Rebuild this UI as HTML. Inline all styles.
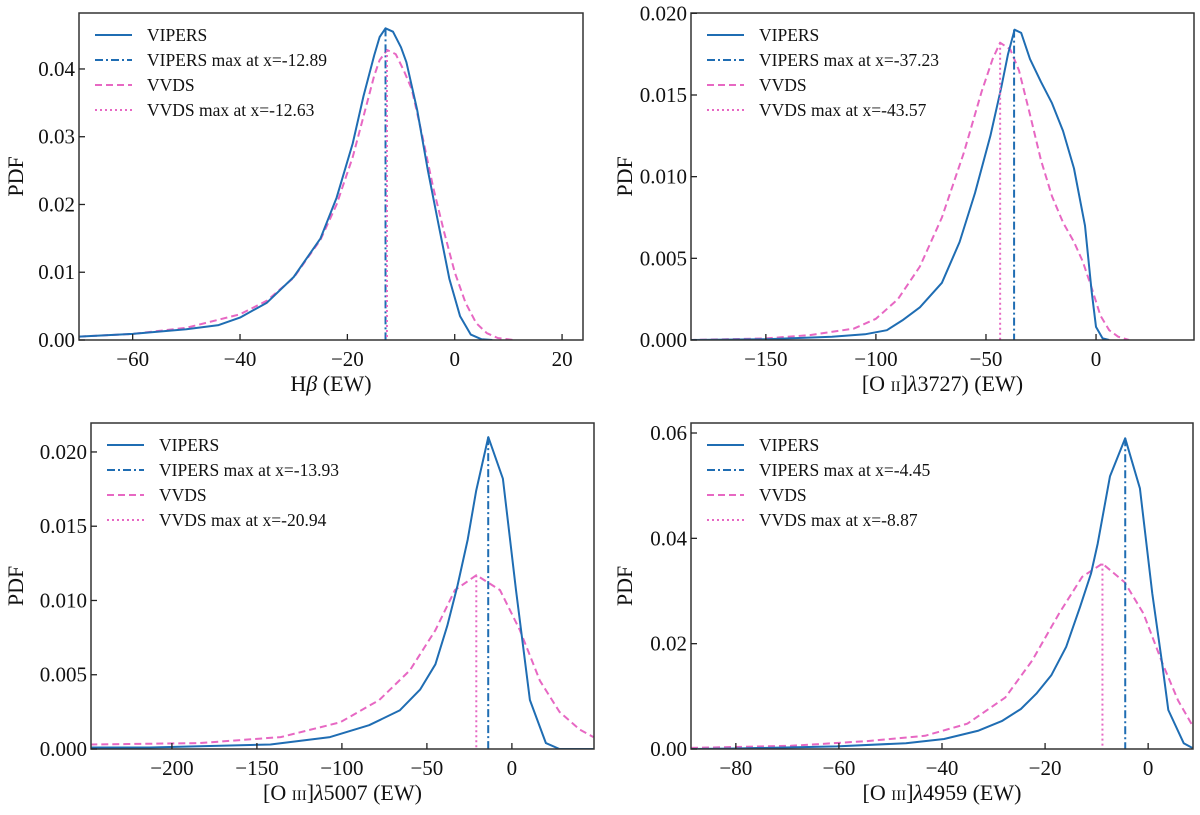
<!DOCTYPE html>
<html><head><meta charset="utf-8"><style>
html,body{margin:0;padding:0;background:#fff;}
svg text{font-family:"Liberation Serif","DejaVu Serif",serif;fill:#111;}
</style></head><body>
<svg id="fig" xmlns="http://www.w3.org/2000/svg" width="1200" height="810" viewBox="0 0 1200 810"></svg>
<script>
// ---- Data ----
const hbVipersX=[-70,-60,-50,-44,-40,-35,-30,-25,-22,-19,-17,-15,-14,-12.9,-11.5,-10,-9,-7,-5,-3,-1,1,3,5,7];
const hbVipersY=[0.0005,0.0009,0.0016,0.0022,0.0033,0.0055,0.0093,0.015,0.021,0.029,0.036,0.042,0.0447,0.046,0.0455,0.0432,0.041,0.034,0.025,0.017,0.009,0.0035,0.0008,0.0001,0];
const hbVvdsX=[-70,-60,-50,-40,-35,-30,-25,-22,-19,-17,-15,-14,-12.6,-11,-9.5,-8,-6,-4,-2,0,2,4,6,8,11];
const hbVvdsY=[0.0005,0.0009,0.0018,0.0038,0.0058,0.0092,0.0148,0.02,0.027,0.033,0.039,0.0413,0.0428,0.0422,0.0398,0.037,0.03,0.0225,0.016,0.01,0.0055,0.0025,0.001,0.0003,0];
const oiiVipersX=[-185,-150,-120,-105,-95,-88,-80,-70,-62,-55,-48,-43,-40,-37,-34,-30,-25,-20,-15,-10,-5,-2,0,3,6];
const oiiVipersY=[0,0.00005,0.0002,0.00035,0.0006,0.0012,0.002,0.0035,0.006,0.009,0.0125,0.0155,0.0175,0.019,0.0188,0.0172,0.0158,0.0145,0.0128,0.0105,0.007,0.003,0.0008,0.0001,0];
const oiiVvdsX=[-185,-150,-130,-110,-100,-90,-80,-70,-60,-52,-47,-43.6,-39,-35,-30,-25,-20,-15,-10,-6,-2,2,6,10,15];
const oiiVvdsY=[0,0.0001,0.0003,0.0007,0.0013,0.0025,0.0045,0.0075,0.0115,0.0152,0.0172,0.0182,0.0178,0.0165,0.0138,0.011,0.0088,0.0072,0.006,0.0048,0.0032,0.0015,0.0006,0.0002,0];
const o5007VipersX=[-248,-213,-142,-107,-84,-66,-54,-45,-38,-32,-26,-21,-13.9,-5.3,2.4,10.6,20,28,48];
const o5007VipersY=[0.0001,0.0001,0.0003,0.0008,0.0016,0.0026,0.004,0.0057,0.0083,0.011,0.0141,0.0174,0.021,0.0182,0.0107,0.0033,0.0004,0,0];
const o5007VvdsX=[-248,-184,-136,-101,-78,-60,-45,-33.5,-20.9,-7,4.7,16.5,28,40,48];
const o5007VvdsY=[0.0003,0.0004,0.0008,0.0018,0.0033,0.0053,0.008,0.0107,0.0117,0.0107,0.008,0.0046,0.0025,0.0013,0.0008];
const o4959VipersX=[-88.7,-80,-60.4,-47,-39.6,-32.9,-28.4,-24.7,-21.7,-18.8,-15.9,-13.2,-11.1,-9.8,-7.4,-4.45,-1.6,0.8,2.8,3.9,6.9,8.8];
const o4959VipersY=[0,0.0001,0.0005,0.0011,0.0019,0.0035,0.0053,0.0076,0.0105,0.014,0.0194,0.027,0.0333,0.039,0.0518,0.059,0.0495,0.0295,0.0156,0.0074,0.0011,0.0001];
const o4959VvdsX=[-88.7,-69.3,-54.5,-43.3,-35.1,-27.7,-22.5,-17.3,-12.8,-8.87,-4.6,-0.9,2.8,5.8,8.8];
const o4959VvdsY=[0.0002,0.0006,0.0015,0.0025,0.0048,0.0098,0.0168,0.0257,0.0327,0.0352,0.0317,0.0257,0.0162,0.0092,0.0041];
const maxVipers=[-12.89,-37.23,-13.93,-4.45];
const maxVipersY=[0.046,0.019,0.021,0.059];
const maxVvds=[-12.63,-43.57,-20.94,-8.87];
const maxVvdsY=[0.0428,0.0182,0.0117,0.0352];
const xTicks=[[-60,-40,-20,0,20],[-150,-100,-50,0],[-200,-150,-100,-50,0],[-80,-60,-40,-20,0]];
const yTicks=[[0,0.01,0.02,0.03,0.04],[0,0.005,0.010,0.015,0.020],[0,0.005,0.010,0.015,0.020],[0,0.02,0.04,0.06]];
const yTickLabels=[["0.00","0.01","0.02","0.03","0.04"],["0.000","0.005","0.010","0.015","0.020"],["0.000","0.005","0.010","0.015","0.020"],["0.00","0.02","0.04","0.06"]];

const BLUE="#1f6db3", PINK="#e768c3";
const NS="http://www.w3.org/2000/svg";
const svg=document.getElementById('fig');
function mk(tag,attrs,parent){const e=document.createElementNS(NS,tag);for(const k in attrs)e.setAttribute(k,attrs[k]);(parent||svg).appendChild(e);return e;}

const panels=[
 {name:'hbeta',box:[79,13,583,340],xd:[-70,23.9],yd:[0,0.04826],vx:hbVipersX,vy:hbVipersY,wx:hbVvdsX,wy:hbVvdsY,xlab:'hb'},
 {name:'oii-3727',box:[691,13,1194,340],xd:[-184,44.5],yd:[0,0.02002],vx:oiiVipersX,vy:oiiVipersY,wx:oiiVvdsX,wy:oiiVvdsY,xlab:'oii'},
 {name:'oiii-5007',box:[91,423,594,749],xd:[-247.6,48.3],yd:[0,0.02195],vx:o5007VipersX,vy:o5007VipersY,wx:o5007VvdsX,wy:o5007VvdsY,xlab:'o5007'},
 {name:'oiii-4959',box:[691,423,1193,749],xd:[-88.7,8.7],yd:[0,0.0619],vx:o4959VipersX,vy:o4959VipersY,wx:o4959VvdsX,wy:o4959VvdsY,xlab:'o4959'}
];

panels.forEach((p,i)=>{
 const [L,T,R,B]=p.box;
 const g=mk('g',{});
 
 
 const sx=v=>L+(v-p.xd[0])/(p.xd[1]-p.xd[0])*(R-L);
 const sy=v=>B-(v-p.yd[0])/(p.yd[1]-p.yd[0])*(B-T);
 const clipId='clip'+i;
 const cp=mk('clipPath',{id:clipId},g); mk('rect',{x:L,y:T,width:R-L,height:B-T},cp);
 const pts=(xs,ys)=>xs.map((x,k)=>sx(x).toFixed(1)+','+sy(ys[k]).toFixed(1)).join(' ');
 const w=mk('polyline',{points:pts(p.wx,p.wy),fill:'none',stroke:PINK,'stroke-width':2,'stroke-dasharray':'7,4','stroke-linejoin':'round','clip-path':`url(#${clipId})`},g);
 
 
 const v=mk('polyline',{points:pts(p.vx,p.vy),fill:'none',stroke:BLUE,'stroke-width':2,'stroke-linejoin':'round','clip-path':`url(#${clipId})`},g);
 
 
 const vl=mk('line',{x1:sx(maxVipers[i]),x2:sx(maxVipers[i]),y1:sy(maxVipersY[i]),y2:B,stroke:BLUE,'stroke-width':2,'stroke-dasharray':'8,3,2,3'},g);
 
 
 const wl=mk('line',{x1:sx(maxVvds[i]),x2:sx(maxVvds[i]),y1:sy(maxVvdsY[i]),y2:B,stroke:PINK,'stroke-width':2,'stroke-dasharray':'2,3'},g);
 
 
 const fr=mk('rect',{x:L,y:T,width:R-L,height:B-T,fill:'none',stroke:'#333','stroke-width':1.5},g);
 
 
 xTicks[i].forEach(t=>{
  const x=sx(t);
  mk('line',{x1:x,x2:x,y1:B,y2:B-6,stroke:'#222','stroke-width':1.3},g);
  const tx=mk('text',{x:x,y:B+26,'font-size':21,'text-anchor':'middle'},g);
  tx.textContent=(t<0?'\u2212'+Math.abs(t):String(t));
  
  
 });
 yTicks[i].forEach((t,k)=>{
  const y=sy(t);
  mk('line',{x1:L,x2:L+6,y1:y,y2:y,stroke:'#222','stroke-width':1.3},g);
  const ty=mk('text',{x:L-4,y:y+7,'font-size':21,'text-anchor':'end'},g);
  ty.textContent=yTickLabels[i][k];
  
  
 });
 const yl=mk('text',{x:0,y:0,'font-size':22,'text-anchor':'middle',transform:`translate(${i%2==0?23:632},${(T+B)/2}) rotate(-90)`},g);
 yl.textContent='PDF';
 
 
 const xl=mk('text',{x:(L+R)/2,y:B+51,'font-size':22,'text-anchor':'middle'},g);
 
 
 if(p.xlab==='hb') xl.innerHTML='H<tspan font-style="italic">β</tspan> (EW)';
 else {
  const num={oii:'3727)',o5007:'5007',o4959:'4959'}[p.xlab];
  const ion=p.xlab==='oii'?'II':'III';
  xl.innerHTML=`[O <tspan font-size="15">${ion}</tspan>]<tspan font-style="italic">λ</tspan>${num} (EW)`;
 }
 const lg=mk('g',{},g);
 
 
 const labels=['VIPERS','VIPERS max at x='+maxVipers[i].toFixed(2),'VVDS','VVDS max at x='+maxVvds[i].toFixed(2)];
 const styles=[[BLUE,''],[BLUE,'8,3,2,3'],[PINK,'7,4'],[PINK,'2,3']];
 labels.forEach((lab,k)=>{
  const y=T+22+k*25;
  const ln=mk('line',{x1:L+16,x2:L+53,y1:y,y2:y,stroke:styles[k][0],'stroke-width':2,'stroke-dasharray':styles[k][1]||'none'},lg);
  
  
  const tt=mk('text',{x:L+68,y:y+6,'font-size':17.5},lg);
  tt.textContent=lab;
  
  
 });
});
</script>
</body></html>
